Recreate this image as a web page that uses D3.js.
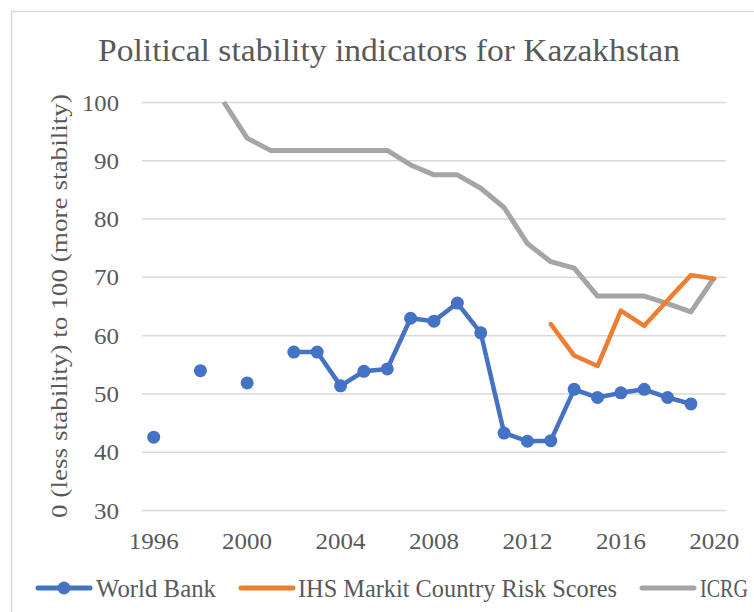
<!DOCTYPE html>
<html>
<head>
<meta charset="utf-8">
<script src="https://cdn.jsdelivr.net/npm/d3@7"></script>
<style>
  html, body { margin: 0; padding: 0; background: #fff; }
  svg { display: block; }
  text { font-family: "Liberation Serif", "DejaVu Serif", serif; fill: #595959; }
</style>
</head>
<body>
<svg id="chart" width="754" height="612"></svg>
<script>
const years = [1996,1997,1998,1999,2000,2001,2002,2003,2004,2005,2006,2007,2008,2009,2010,2011,2012,2013,2014,2015,2016,2017,2018,2019,2020];
const worldBank = [42.5,null,53.9,null,51.8,null,57.1,57.1,51.3,53.8,54.2,62.9,62.4,65.5,60.4,43.2,41.8,41.9,50.7,49.3,50.1,50.7,49.3,48.2,null];
const ihsMarkit = [null,null,null,null,null,null,null,null,null,null,null,null,null,null,null,null,null,61.9,56.5,54.7,64.2,61.6,66.0,70.3,69.7];
const icrg = [null,null,null,100,93.8,91.7,91.7,91.7,91.7,91.7,91.7,89.2,87.5,87.5,85.2,81.9,75.7,72.6,71.5,66.7,66.7,66.7,65.4,64.0,69.9];
const yTicks = [30,40,50,60,70,80,90,100];
const xTickLabels = [1996,2000,2004,2008,2012,2016,2020];
const seriesNames = ["World Bank","IHS Markit Country Risk Scores","ICRG"];
const colors = ["#4472C4","#ED7D31","#A5A5A5"];

(function(){
const svg = d3.select("#chart");
const pLeft = 142, pRight = 726, pTop = 102, pBottom = 510;
const serif = "'Liberation Serif', 'DejaVu Serif', serif";

// outer frame
svg.append("path").attr("d", "M11.5,620 L11.5,11.5 L760,11.5")
  .attr("fill","none").attr("stroke","#D9D9D9").attr("stroke-width",1.5);

const x = d3.scaleBand().domain(years).range([pLeft, pRight]).padding(0);
const y = d3.scaleLinear().domain([30,100]).range([pBottom, pTop]);
const cx = d => x(d) + x.bandwidth()/2;

// title
svg.append("text").attr("x", 389).attr("y", 61).attr("text-anchor","middle")
  .attr("font-size", 31).attr("textLength", 582).attr("lengthAdjust","spacingAndGlyphs")
  .text("Political stability indicators for Kazakhstan");

// gridlines + y labels
const yAxis = d3.axisLeft(y).tickValues(yTicks).tickSize(-(pRight-pLeft)).tickPadding(22);
const gy = svg.append("g").attr("transform", `translate(${pLeft},0)`).call(yAxis);
gy.select(".domain").remove();
gy.selectAll(".tick line").attr("stroke","#D9D9D9").attr("stroke-width",1.5);
gy.selectAll(".tick text").attr("font-size", 23.5).attr("fill","#595959")
  .style("font-family", serif).attr("x", -23).attr("dy","0.34em").attr("text-anchor","end")
  .attr("textLength", d => d >= 100 ? 37 : 25).attr("lengthAdjust","spacingAndGlyphs");

// x axis labels
const xAxis = d3.axisBottom(x).tickValues(xTickLabels).tickSize(0).tickPadding(22);
const gx = svg.append("g").attr("transform", `translate(0,${pBottom})`).call(xAxis);
gx.select(".domain").remove();
gx.selectAll(".tick text").attr("font-size", 23.5).attr("fill","#595959")
  .style("font-family", serif).attr("textLength", 50).attr("lengthAdjust","spacingAndGlyphs");

// y axis title
svg.append("text").attr("transform", `translate(67,${(pTop+pBottom)/2}) rotate(-90)`)
  .attr("text-anchor","middle").attr("font-size", 23)
  .attr("textLength", 424).attr("lengthAdjust","spacingAndGlyphs")
  .text("0 (less stability) to 100 (more stability)");

const line = d3.line().defined(d => d.v != null).x(d => cx(d.year)).y(d => y(d.v));
const toPts = arr => years.map((yr,i) => ({year: yr, v: arr[i]}));

// ICRG
svg.append("path").datum(toPts(icrg)).attr("d", line)
  .attr("fill","none").attr("stroke",colors[2]).attr("stroke-width",5).attr("stroke-linejoin","round");
// IHS
svg.append("path").datum(toPts(ihsMarkit)).attr("d", line)
  .attr("fill","none").attr("stroke",colors[1]).attr("stroke-width",4.5).attr("stroke-linejoin","round").attr("stroke-linecap","round");
// World Bank
const wbPts = toPts(worldBank);
svg.append("path").datum(wbPts).attr("d", line)
  .attr("fill","none").attr("stroke",colors[0]).attr("stroke-width",4.5).attr("stroke-linejoin","round");
svg.append("g").selectAll("circle").data(wbPts.filter(d => d.v != null)).join("circle")
  .attr("cx", d => cx(d.year)).attr("cy", d => y(d.v)).attr("r", 6.5).attr("fill", colors[0]);

// legend
const legY = 588;
const legItems = [
  {name: seriesNames[0], x0: 38, x1: 90, tx: 96, w: 120, color: colors[0], marker: true},
  {name: seriesNames[1], x0: 241, x1: 293, tx: 298, w: 319, color: colors[1], marker: false},
  {name: seriesNames[2], x0: 642, x1: 694, tx: 700, w: 48, color: colors[2], marker: false}
];
const lg = svg.append("g");
legItems.forEach(it => {
  lg.append("line").attr("x1", it.x0).attr("x2", it.x1).attr("y1", legY).attr("y2", legY)
    .attr("stroke", it.color).attr("stroke-width", 5).attr("stroke-linecap","round");
  if (it.marker) lg.append("circle").attr("cx", (it.x0+it.x1)/2).attr("cy", legY).attr("r", 6.5).attr("fill", it.color);
  lg.append("text").attr("x", it.tx).attr("y", legY).attr("dy","0.35em").attr("font-size", 24.5)
    .attr("textLength", it.w).attr("lengthAdjust","spacingAndGlyphs").text(it.name);
});
})();
</script>
</body>
</html>
